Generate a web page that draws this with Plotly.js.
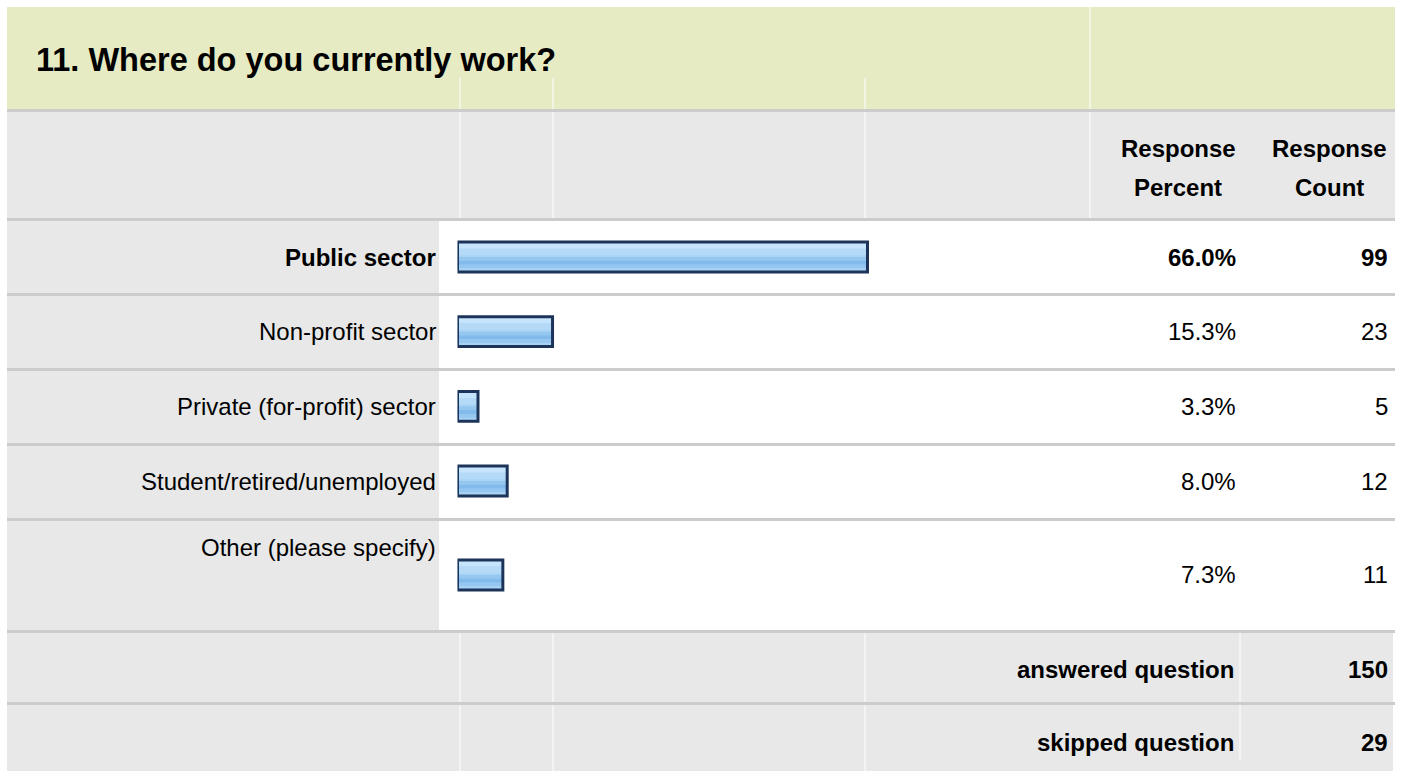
<!DOCTYPE html>
<html>
<head>
<meta charset="utf-8">
<script src="https://cdn.plot.ly/plotly-3.0.1.min.js"></script>
<style>html,body{margin:0;padding:0;background:#fff;}#chart{width:1407px;height:771px;}</style>
</head>
<body>
<div id="chart"></div>
<script>
// ---- data ----
const questionTitle = '11. Where do you currently work?';
const categories = ['Public sector', 'Non-profit sector', 'Private (for-profit) sector', 'Student/retired/unemployed', 'Other (please specify)'];
const percents = [66.0, 15.3, 3.3, 8.0, 7.3];
const counts = [99, 23, 5, 12, 11];
const headerPercent = ['Response', 'Percent'];
const headerCount = ['Response', 'Count'];
const summaryLabels = ['answered question', 'skipped question'];
const summaryValues = [150, 29];
const boldCategory = 'Public sector';

// ---- layout geometry (pixels) ----
const W = 1407, H = 771;
const px = x => x / W;
const py = y => 1 - y / H;
const FONT = 'Liberation Sans, Arial, Helvetica, sans-serif';
const GRAY = '#e8e8e8', SEP = '#cccccc', GREEN = '#e6ebc3';
const L = 7, R = 1395;
const rowBands = [[221, 293], [296, 368], [371, 443], [446, 518], [521, 630]];
const seps = [109, 218, 293, 368, 443, 518, 630, 702];
const catTop = 219.67, catStep = 74.67;   // category axis mapping
const barW = 0.4;
const rowShift = [0, 0, 0, 0, 0.258];    // extra downward shift of bar inside tall row
const labelTopAlign = [false, false, false, false, true];

const shapes = [];
function rect(x0, y0, x1, y1, color) {
  shapes.push({type: 'rect', xref: 'paper', yref: 'paper', x0: px(x0), x1: px(x1), y0: py(y1), y1: py(y0),
    fillcolor: color, line: {width: 0}, layer: 'below'});
}
function vline(x, y0, y1) {
  shapes.push({type: 'line', xref: 'paper', yref: 'paper', x0: px(x), x1: px(x), y0: py(y1), y1: py(y0),
    line: {color: '#ffffff', width: 1}, layer: 'below'});
}
// title band
rect(L, 7, R, 109, GREEN);
// header
rect(L, 112, R, 218, GRAY);
// data rows: gray label cell
rowBands.forEach(b => rect(L, b[0], 439, b[1], GRAY));
// summary rows
rect(L, 633, 1393, 702, GRAY);
rect(L, 705, 1393, 771, GRAY);
// separators
seps.forEach(s => rect(L, s, R, s + 3, SEP));
// white vertical lines
[460, 553, 865].forEach(x => { vline(x, 78, 109); vline(x, 112, 218); vline(x, 633, 702); vline(x, 705, 771); });
vline(1090, 7, 109); vline(1090, 112, 218);
vline(1240, 633, 702); vline(1240, 705, 760);

// ---- traces (layered to imitate the glossy gradient fill) ----
const offs = rowShift.map(s => -barW / 2 + s);
const base = {type: 'bar', orientation: 'h', x: percents, y: categories, hoverinfo: 'skip', showlegend: false};
const layers = [
  {from: 0.0, size: 1.0, color: '#a9d3f5'},
  {from: 0.0, size: 0.22, color: '#c6e4fb'},
  {from: 0.22, size: 0.22, color: '#b5daf8'},
  {from: 0.5, size: 0.12, color: '#95c7f0'},
  {from: 0.62, size: 0.14, color: '#82bbeb'},
  {from: 0.76, size: 0.12, color: '#95c7f0'}
];
const traces = layers.map(l => Object.assign({}, base, {
  width: barW * l.size, offset: offs.map(o => o + barW * l.from),
  marker: {color: l.color, line: {width: 0}}
}));
traces.push(Object.assign({}, base, {width: barW, offset: offs,
  marker: {color: 'rgba(0,0,0,0)', line: {color: '#1c3459', width: 3}}}));

// ---- annotations ----
const ann = [];
function text(t, x, y, size, bold, anchor) {
  ann.push({text: bold ? '<b>' + t + '</b>' : t, xref: 'paper', yref: 'paper', x: px(x), y: py(y),
    xanchor: anchor || 'right', yanchor: 'middle', showarrow: false, borderpad: 0,
    font: {family: FONT, size: size, color: '#000000'}});
}
text(questionTitle, 35, 60, 32.5, true, 'left');
text(headerPercent[0], 1178, 149, 24, true, 'center');
text(headerPercent[1], 1178, 187, 24, true, 'center');
text(headerCount[0], 1329, 149, 24, true, 'center');
text(headerCount[1], 1329, 187, 24, true, 'center');
categories.forEach((c, i) => {
  const barC = catTop + catStep * (i + 0.5) + rowShift[i] * catStep;
  const labelY = labelTopAlign[i] ? rowBands[i][0] + 26 : barC;
  const bold = c === boldCategory;
  text(c, 437, labelY, 24, bold);
  text(percents[i].toFixed(1) + '%', 1237, barC, 24, bold);
  text(String(counts[i]), 1389, barC, 24, bold);
});
summaryLabels.forEach((s, i) => {
  const y = i === 0 ? 669 : 742;
  text(s, 1235, y, 24, true);
  text(String(summaryValues[i]), 1389, y, 24, true);
});

const layout = {
  width: W, height: H,
  margin: {l: 0, r: 0, t: 0, b: 0, pad: 0},
  paper_bgcolor: '#ffffff', plot_bgcolor: 'rgba(0,0,0,0)',
  barmode: 'overlay',
  xaxis: {domain: [457.5 / W, (457.5 + 621.2) / W], range: [0, 100], visible: false, fixedrange: true},
  yaxis: {type: 'category', categoryorder: 'array', categoryarray: categories,
    domain: [1 - (catTop + 5 * catStep) / H, 1 - catTop / H], range: [4.5, -0.5], visible: false, fixedrange: true},
  shapes: shapes,
  annotations: ann,
  font: {family: FONT}
};
Plotly.newPlot('chart', traces, layout, {displayModeBar: false, staticPlot: true});
</script>
</body>
</html>
